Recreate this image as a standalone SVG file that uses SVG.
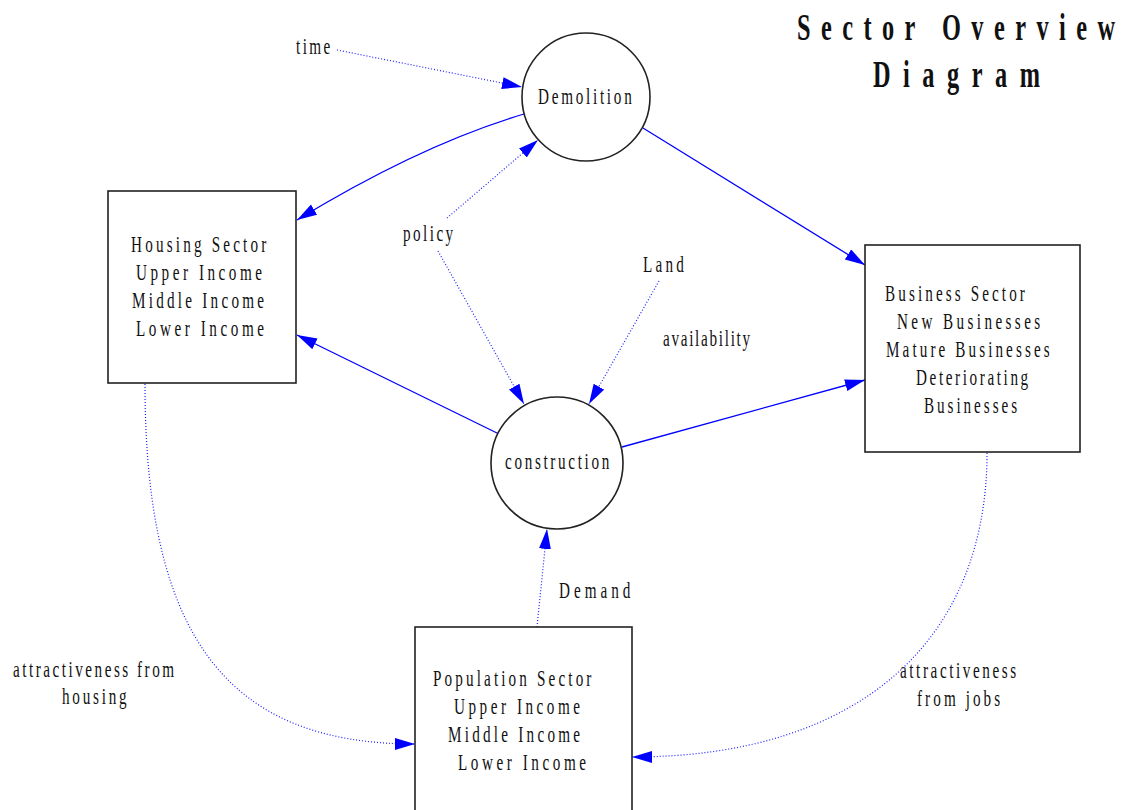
<svg xmlns="http://www.w3.org/2000/svg" width="1126" height="810" viewBox="0 0 1126 810">
  <style>
    .lbl { font-family: "Liberation Serif", "Times New Roman", serif; font-size: 23px; fill: #111; }
    .title { font-family: "Liberation Serif", "Times New Roman", serif; font-size: 38px; font-weight: bold; fill: #111; }
    .node { fill: #fff; stroke: #222; stroke-width: 1.6; }
    .flow { fill: none; stroke: #0000ff; stroke-width: 1.3; }
    .info { fill: none; stroke: #1f1fff; stroke-width: 1.2; stroke-dasharray: 1 2; }
  </style>
  <defs>
    <marker id="arrow" markerUnits="userSpaceOnUse" markerWidth="22" markerHeight="14" refX="20" refY="6" orient="auto">
      <path d="M0,0 L20,6 L0,12 z" fill="#0000ff"/>
    </marker>
  </defs>

  <rect width="1126" height="810" fill="#fff"/>

  <!-- title -->
  <g id="title">
    <text class="title" transform="translate(797,40) scale(0.64,1)" textLength="497" lengthAdjust="spacing">Sector Overview</text>
    <text class="title" transform="translate(873,87) scale(0.64,1)" textLength="261" lengthAdjust="spacing">Diagram</text>
  </g>

  <!-- connectors -->
  <g id="connectors">
    <path class="flow" d="M524,114 Q420,145 297,220" marker-end="url(#arrow)"/>
    <path class="flow" d="M643,128 L865,265" marker-end="url(#arrow)"/>
    <path class="flow" d="M499,434 L297,335" marker-end="url(#arrow)"/>
    <path class="flow" d="M622,447 L865,380" marker-end="url(#arrow)"/>
    <path class="info" d="M337,50 L522,87" marker-end="url(#arrow)"/>
    <path class="info" d="M447,218 L538,140" marker-end="url(#arrow)"/>
    <path class="info" d="M438,251 L524,404" marker-end="url(#arrow)"/>
    <path class="info" d="M659,281 L589,404" marker-end="url(#arrow)"/>
    <path class="info" d="M537,627 L547,529" marker-end="url(#arrow)"/>
    <path class="info" d="M145,384 C145,640 230,744 415,744" marker-end="url(#arrow)"/>
    <path class="info" d="M987,453 C987,640 860,757 632,757" marker-end="url(#arrow)"/>
  </g>

  <!-- free labels -->
  <g id="labels">
    <text class="lbl" transform="translate(296,54) scale(0.66,1)" textLength="52" lengthAdjust="spacing">time</text>
    <text class="lbl" transform="translate(403,241) scale(0.66,1)" textLength="76" lengthAdjust="spacing">policy</text>
    <text class="lbl" transform="translate(643,272) scale(0.66,1)" textLength="62" lengthAdjust="spacing">Land</text>
    <text class="lbl" transform="translate(663,346) scale(0.66,1)" textLength="132" lengthAdjust="spacing">availability</text>
    <text class="lbl" transform="translate(559,598) scale(0.66,1)" textLength="108" lengthAdjust="spacing">Demand</text>
    <text class="lbl" transform="translate(13,677) scale(0.66,1)" textLength="244" lengthAdjust="spacing">attractiveness from</text>
    <text class="lbl" transform="translate(62,704) scale(0.66,1)" textLength="98" lengthAdjust="spacing">housing</text>
    <text class="lbl" transform="translate(900,678) scale(0.66,1)" textLength="176" lengthAdjust="spacing">attractiveness</text>
    <text class="lbl" transform="translate(917,706) scale(0.66,1)" textLength="126" lengthAdjust="spacing">from jobs</text>
  </g>

  <!-- Demolition -->
  <g id="demolition">
    <circle class="node" cx="586" cy="97" r="64"/>
    <text class="lbl" transform="translate(538,104) scale(0.66,1)" textLength="142" lengthAdjust="spacing">Demolition</text>
  </g>

  <!-- construction -->
  <g id="construction">
    <circle class="node" cx="557" cy="463" r="66"/>
    <text class="lbl" transform="translate(505,469) scale(0.66,1)" textLength="158" lengthAdjust="spacing">construction</text>
  </g>

  <!-- Housing Sector -->
  <g id="housing">
    <rect class="node" x="108" y="191" width="188" height="192"/>
    <text class="lbl" transform="translate(131,252) scale(0.66,1)" textLength="205" lengthAdjust="spacing">Housing Sector</text>
    <text class="lbl" transform="translate(136,280) scale(0.66,1)" textLength="191" lengthAdjust="spacing">Upper Income</text>
    <text class="lbl" transform="translate(132,308) scale(0.66,1)" textLength="200" lengthAdjust="spacing">Middle Income</text>
    <text class="lbl" transform="translate(136,336) scale(0.66,1)" textLength="194" lengthAdjust="spacing">Lower Income</text>
  </g>

  <!-- Business Sector -->
  <g id="business">
    <rect class="node" x="865" y="245" width="215" height="207"/>
    <text class="lbl" transform="translate(885,301) scale(0.66,1)" textLength="212" lengthAdjust="spacing">Business Sector</text>
    <text class="lbl" transform="translate(897,329) scale(0.66,1)" textLength="217" lengthAdjust="spacing">New Businesses</text>
    <text class="lbl" transform="translate(886,357) scale(0.66,1)" textLength="248" lengthAdjust="spacing">Mature Businesses</text>
    <text class="lbl" transform="translate(916,385) scale(0.66,1)" textLength="170" lengthAdjust="spacing">Deteriorating</text>
    <text class="lbl" transform="translate(924,413) scale(0.66,1)" textLength="141" lengthAdjust="spacing">Businesses</text>
  </g>

  <!-- Population Sector -->
  <g id="population">
    <rect class="node" x="415" y="627" width="217" height="200"/>
    <text class="lbl" transform="translate(433,686) scale(0.66,1)" textLength="240" lengthAdjust="spacing">Population Sector</text>
    <text class="lbl" transform="translate(454,714) scale(0.66,1)" textLength="191" lengthAdjust="spacing">Upper Income</text>
    <text class="lbl" transform="translate(448,742) scale(0.66,1)" textLength="200" lengthAdjust="spacing">Middle Income</text>
    <text class="lbl" transform="translate(458,770) scale(0.66,1)" textLength="194" lengthAdjust="spacing">Lower Income</text>
  </g>
</svg>
